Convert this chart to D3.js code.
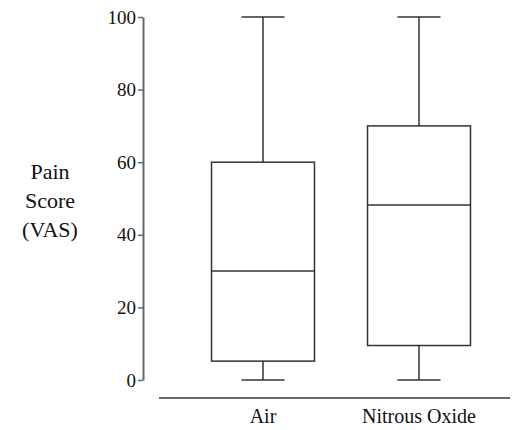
<!DOCTYPE html>
<html>
<head>
<meta charset="utf-8">
<script src="https://cdn.jsdelivr.net/npm/d3@7"></script>
<style>
  svg text, svg tspan { font-family: "Liberation Serif", Tinos, "Times New Roman", Times, serif !important; }
</style>
</head>
<body style="margin:0;background:#fff">
<script>
// box stats
var groups = ["Air", "Nitrous Oxide"];
var mins = [0, 0];
var q1s = [5.2, 9.5];
var medians = [30, 48.2];
var q3s = [60, 70];
var maxs = [100, 100];
var yTicks = [0, 20, 40, 60, 80, 100];
var yLabel = ["Pain", "Score", "(VAS)"];

var width = 516, height = 430;
var fontName = "'Liberation Serif', Tinos, 'Times New Roman', Times, serif";

var svg = d3.select("body")
  .append("svg")
  .attr("width", width)
  .attr("height", height)
  .attr("font-family", fontName);

var yScale = d3.scaleLinear().domain([0, 100]).range([380, 17]);

var xScale = d3.scaleBand()
  .domain(groups)
  .range([185, 497])
  .paddingInner(0.34)
  .paddingOuter(0.17);

// y axis
var gy = svg.append("g")
  .attr("transform", "translate(143,0)")
  .call(d3.axisLeft(yScale)
    .tickValues(yTicks)
    .tickSize(5)
    .tickPadding(2)
    .tickSizeOuter(0));
gy.attr("font-family", fontName).attr("font-size", 19);
gy.select(".domain").attr("stroke", "#666").attr("stroke-width", 2);
gy.selectAll(".tick line").attr("stroke", "#666").attr("stroke-width", 1.5);
gy.selectAll(".tick text")
  .style("font-family", fontName, "important")
  .attr("font-size", 19)
  .attr("fill", "#111");

// x baseline + labels
svg.append("line")
  .attr("x1", 159).attr("x2", 510)
  .attr("y1", 398).attr("y2", 398)
  .attr("stroke", "#333").attr("stroke-width", 1.5);

svg.selectAll(".xlab")
  .data(groups)
  .enter()
  .append("text")
  .attr("class", "xlab")
  .attr("x", d => xScale(d) + xScale.bandwidth() / 2)
  .attr("y", 423)
  .attr("text-anchor", "middle")
  .style("font-family", fontName, "important")
  .attr("font-size", 20)
  .attr("fill", "#111")
  .text(d => d);

// y label
svg.append("text")
  .attr("text-anchor", "middle")
  .style("font-family", fontName, "important")
  .attr("font-size", 22)
  .attr("fill", "#111")
  .selectAll("tspan")
  .data(yLabel)
  .enter()
  .append("tspan")
  .attr("x", 50)
  .attr("y", (d, i) => 179 + i * 29)
  .style("font-family", fontName, "important")
  .text(d => d);

// boxes
var bw = xScale.bandwidth();
var capW = 43;

var box = svg.selectAll(".box")
  .data(groups)
  .enter()
  .append("g")
  .attr("class", "box")
  .attr("stroke", "#333")
  .attr("stroke-width", 1.5);

box.append("line")
  .attr("x1", d => xScale(d) + bw / 2).attr("x2", d => xScale(d) + bw / 2)
  .attr("y1", (d, i) => yScale(maxs[i])).attr("y2", (d, i) => yScale(q3s[i]));

box.append("line")
  .attr("x1", d => xScale(d) + bw / 2).attr("x2", d => xScale(d) + bw / 2)
  .attr("y1", (d, i) => yScale(q1s[i])).attr("y2", (d, i) => yScale(mins[i]));

box.append("rect")
  .attr("x", d => xScale(d))
  .attr("width", bw)
  .attr("y", (d, i) => yScale(q3s[i]))
  .attr("height", (d, i) => yScale(q1s[i]) - yScale(q3s[i]))
  .attr("fill", "none");

box.append("line")
  .attr("x1", d => xScale(d)).attr("x2", d => xScale(d) + bw)
  .attr("y1", (d, i) => yScale(medians[i])).attr("y2", (d, i) => yScale(medians[i]));

// caps
box.append("line")
  .attr("x1", d => xScale(d) + bw / 2 - capW / 2).attr("x2", d => xScale(d) + bw / 2 + capW / 2)
  .attr("y1", (d, i) => yScale(maxs[i])).attr("y2", (d, i) => yScale(maxs[i]));

box.append("line")
  .attr("x1", d => xScale(d) + bw / 2 - capW / 2).attr("x2", d => xScale(d) + bw / 2 + capW / 2)
  .attr("y1", (d, i) => yScale(mins[i])).attr("y2", (d, i) => yScale(mins[i]));
</script>
</body>
</html>
